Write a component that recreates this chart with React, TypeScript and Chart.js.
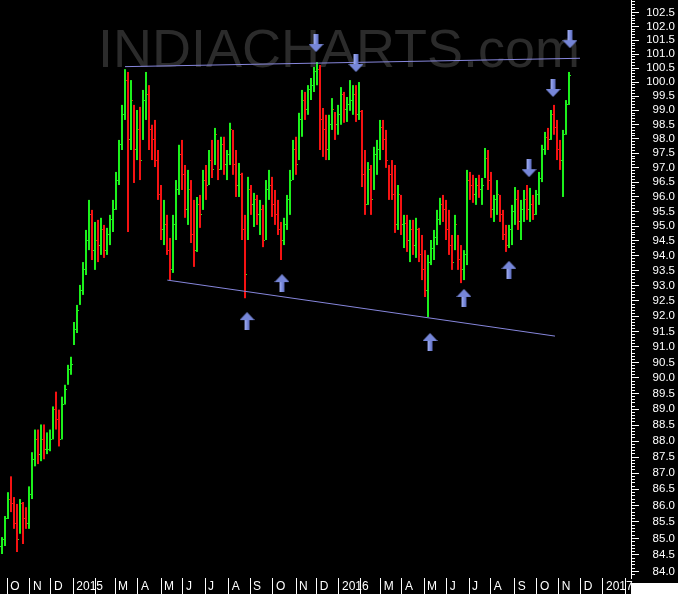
import React, { useEffect, useRef } from 'react';
import { Chart, registerables } from 'chart.js';

Chart.register(...registerables);

// ---- X axis: month ticks (position in bar-index units) and their labels ----
const monthLabels = ['O', 'N', 'D', '2015', '', 'M', 'A', 'M', 'J', 'J', 'A', 'S', 'O', 'N', 'D', '2016', '', 'M', 'A', 'M', 'J', 'J', 'A', 'S', 'O', 'N', 'D', '2017', ''];
const monthPositions = [1.77, 9.33, 16.33, 23.77, 31.23, 37.67, 45.33, 53.0, 60.33, 67.67, 75.57, 82.67, 90.33, 98.0, 104.9, 112.33, 119.57, 126.23, 133.33, 140.67, 148.23, 155.67, 162.9, 170.9, 178.33, 185.57, 192.9, 200.33, 208.0];
const xMin = -0.667;
const xMax = 209.667;

// ---- Y axis (logarithmic price scale) ----
const yMin = 83.81;
const yMax = 102.965;
const yLabelFrom = 84.0;
const yLabelTo = 102.5;
const yMinorFrom = 83.9;
const yMinorTo = 102.9;

// ---- OHLC series (one bar per ~3 sessions) ----
const firstOpen = 84.75;
const highs = [
  85.04, 85.68, 86.41, 86.90, 86.26, 86.05, 86.20, 86.11, 85.95, 86.59,
  87.65, 88.36, 88.36, 88.52, 88.52, 88.27, 88.36, 89.09, 89.56, 88.99,
  89.40, 89.78, 90.42, 90.68, 91.81, 92.37, 93.03, 93.79, 94.87, 95.89,
  95.55, 95.14, 95.21, 95.28, 95.04, 94.94, 95.38, 95.89, 96.85, 97.96,
  99.19, 100.46, 100.36, 100.07, 99.19, 99.01, 99.12, 99.72, 100.36, 99.89,
  98.49, 98.66, 97.61, 96.40, 95.89, 95.38, 94.60, 95.38, 96.57, 97.79,
  97.96, 97.09, 96.92, 96.57, 95.89, 95.99, 96.06, 96.92, 97.09, 97.61,
  97.96, 98.38, 97.96, 98.07, 98.07, 97.61, 98.56, 98.31, 97.61, 97.16,
  96.82, 95.38, 96.68, 96.40, 96.13, 96.06, 95.89, 95.72, 96.57, 96.92,
  96.68, 96.23, 95.89, 95.14, 95.28, 96.06, 96.92, 97.96, 98.07, 98.91,
  99.72, 99.65, 99.89, 100.14, 100.54, 100.72, 100.61, 99.08, 98.84, 98.84,
  99.43, 98.94, 99.19, 99.82, 99.65, 99.47, 100.07, 99.89, 99.89, 100.00,
  99.01, 97.61, 97.19, 97.09, 97.72, 97.96, 98.66, 98.66, 98.31, 97.09,
  97.26, 97.09, 96.40, 96.06, 95.38, 95.38, 95.21, 95.21, 95.28, 94.94,
  94.70, 94.19, 94.03, 94.53, 94.87, 95.55, 95.96, 96.06, 95.89, 95.55,
  94.70, 95.38, 94.70, 94.36, 94.19, 96.92, 96.85, 96.75, 96.64, 96.75,
  96.64, 97.68, 97.61, 96.85, 96.06, 96.57, 96.06, 95.55, 95.04, 95.04,
  95.72, 96.33, 96.23, 95.89, 96.23, 96.40, 96.30, 96.06, 96.23, 96.85,
  97.79, 98.24, 98.38, 99.01, 99.19, 98.66, 97.96, 98.31, 99.36, 100.36,
];
const lows = [
  84.53, 84.77, 85.59, 85.80, 85.29, 84.59, 85.14, 84.83, 85.29, 85.29,
  86.20, 87.21, 87.28, 87.37, 87.43, 87.59, 87.68, 88.05, 88.36, 87.83,
  88.05, 89.15, 89.78, 90.10, 91.06, 91.45, 92.37, 92.70, 93.36, 94.19,
  93.86, 93.53, 93.79, 94.03, 93.93, 94.03, 94.36, 94.80, 95.55, 96.40,
  97.61, 98.66, 94.80, 97.61, 96.47, 97.26, 96.57, 97.96, 98.66, 97.61,
  97.26, 97.02, 95.89, 94.53, 94.36, 94.03, 93.19, 93.43, 94.53, 96.06,
  96.23, 95.28, 95.04, 94.43, 93.63, 94.13, 94.94, 95.55, 95.89, 96.40,
  96.64, 97.09, 96.57, 96.92, 96.75, 96.57, 97.09, 96.75, 95.99, 95.99,
  94.53, 92.59, 94.53, 95.38, 94.97, 95.04, 94.70, 94.29, 94.53, 95.89,
  95.31, 95.04, 94.70, 93.86, 94.36, 94.87, 95.38, 96.57, 96.75, 97.26,
  98.07, 98.66, 98.84, 99.36, 99.65, 99.89, 97.61, 97.37, 97.26, 97.26,
  98.31, 97.96, 98.14, 98.49, 98.56, 98.59, 98.98, 98.84, 98.59, 98.66,
  96.33, 95.38, 95.72, 95.38, 96.23, 96.75, 97.26, 97.61, 96.99, 95.89,
  95.89, 94.77, 94.87, 94.70, 94.26, 94.13, 93.79, 94.03, 93.93, 93.79,
  93.19, 92.63, 91.97, 93.69, 93.86, 94.36, 95.04, 95.14, 94.53, 94.03,
  93.53, 94.19, 93.53, 93.09, 93.19, 93.69, 95.89, 95.79, 95.72, 95.96,
  95.72, 96.64, 96.23, 95.28, 95.14, 95.38, 95.14, 94.53, 94.13, 94.26,
  94.36, 95.04, 94.87, 94.53, 95.14, 95.21, 95.14, 95.21, 95.38, 95.72,
  96.50, 97.44, 97.61, 97.96, 98.14, 97.26, 96.92, 95.99, 98.14, 99.19,
];
const closes = [
  84.98, 85.59, 86.20, 86.05, 85.44, 84.98, 86.05, 85.59, 85.44, 86.35,
  87.43, 88.05, 87.59, 88.05, 87.74, 87.74, 88.05, 88.99, 88.68, 88.05,
  89.15, 89.62, 90.26, 90.42, 91.55, 92.20, 92.86, 93.53, 94.53, 95.38,
  94.19, 94.53, 94.36, 94.87, 94.19, 94.70, 95.21, 95.55, 96.57, 97.79,
  98.84, 100.07, 97.96, 99.36, 97.61, 98.31, 97.26, 99.36, 99.54, 98.31,
  97.96, 97.26, 96.06, 94.87, 95.04, 94.19, 93.53, 95.04, 96.23, 97.44,
  96.75, 95.55, 96.23, 94.70, 94.19, 95.72, 95.38, 96.57, 96.40, 97.26,
  96.92, 98.14, 96.92, 97.79, 97.09, 97.44, 98.31, 97.09, 96.40, 96.75,
  94.87, 93.36, 96.23, 95.72, 95.89, 95.38, 95.55, 94.53, 96.23, 96.40,
  95.72, 95.38, 94.87, 94.53, 95.04, 95.89, 96.57, 97.61, 97.09, 98.66,
  99.36, 99.01, 99.72, 99.89, 100.36, 100.43, 98.66, 98.31, 97.61, 98.49,
  99.01, 98.49, 98.84, 99.54, 99.01, 99.19, 99.36, 99.54, 98.84, 98.94,
  96.75, 95.72, 96.92, 95.89, 97.44, 97.61, 98.38, 97.96, 97.26, 96.75,
  96.06, 95.04, 96.06, 95.04, 95.10, 94.53, 94.87, 94.36, 94.87, 94.03,
  93.53, 92.86, 93.79, 94.26, 94.60, 95.21, 95.72, 95.55, 94.87, 94.36,
  93.79, 95.04, 93.86, 93.53, 94.03, 96.57, 96.40, 96.06, 96.40, 96.23,
  96.40, 97.33, 96.57, 95.55, 95.89, 96.06, 95.38, 94.70, 94.36, 94.87,
  95.48, 95.89, 95.14, 95.55, 95.89, 95.55, 95.72, 95.38, 96.06, 96.64,
  97.61, 98.03, 97.96, 98.84, 98.38, 97.61, 97.26, 98.14, 99.19, 100.25,
];

// ---- Trend lines (bar-index, price) ----
const upperLineX = [41.0, 192.67];
const upperLineY = [100.55, 100.85];
const lowerLineX = [55.1, 184.33];
const lowerLineY = [93.19, 91.35];

// ---- Arrow annotations (centre, bar-index / price) ----
const downArrowX = [104.67, 118.0, 175.67, 183.67, 189.33];
const downArrowY = [101.40, 100.68, 96.98, 99.79, 101.54];
const upArrowX = [81.67, 93.33, 142.67, 154.0, 169.0];
const upArrowY = [91.84, 93.09, 91.16, 92.60, 93.53];

const watermark = 'INDIACHARTS.com';

const GREEN = '#1cf01c';
const RED = '#f51212';
const LINE = '#8686dc';
const FONT = '"Liberation Sans", Arial, sans-serif';

function makeArrow(down: boolean): HTMLCanvasElement {
  const c = document.createElement('canvas');
  c.width = 15;
  c.height = 18;
  const g = c.getContext('2d') as CanvasRenderingContext2D;
  g.save();
  if (!down) {
    g.translate(0, 18);
    g.scale(1, -1);
  }
  g.fillStyle = '#7686d8';
  g.fillRect(5, 0, 5, 10);
  g.beginPath();
  g.moveTo(0, 10);
  g.lineTo(15, 10);
  g.lineTo(7.5, 18);
  g.closePath();
  g.fill();
  g.fillStyle = '#95a3ea';
  g.fillRect(5, 0, 2, 10);
  g.fillStyle = '#5a68b4';
  g.fillRect(9, 0, 1, 10);
  g.restore();
  return c;
}

export default function App() {
  const ref = useRef<HTMLCanvasElement>(null);

  useEffect(() => {
    const canvas = ref.current as HTMLCanvasElement;
    const opens = closes.map((c, i) => (i === 0 ? firstOpen : closes[i - 1]));
    const colors = closes.map((c, i) => (c >= opens[i] ? GREEN : RED));
    const barData = highs.map((h, i) => ({ x: i, y: [lows[i], h] }));

    const yTicks: { value: number }[] = [];
    for (let k = Math.round(yMinorFrom * 10); k <= Math.round(yMinorTo * 10); k++) {
      yTicks.push({ value: k / 10 });
    }
    const isMajor = (v: number) => Math.round(v * 10) % 5 === 0;

    const ohlcTicks = {
      id: 'ohlcTicks',
      afterDatasetDraw(chart: any, args: any) {
        const ds = chart.data.datasets[args.index];
        if (ds.label !== 'ohlc') return;
        const ys = chart.scales.y;
        const ctx = chart.ctx;
        ctx.save();
        args.meta.data.forEach((el: any, i: number) => {
          ctx.fillStyle = colors[i];
          const x = Math.round(el.x);
          const yo = Math.round(ys.getPixelForValue(opens[i]) - 0.5);
          const yc = Math.round(ys.getPixelForValue(closes[i]) - 0.5);
          ctx.fillRect(x - 2, yo, 1, 1);
          ctx.fillRect(x + 1, yc, 1, 1);
        });
        ctx.restore();
      },
    };

    const decor = {
      id: 'decor',
      beforeDatasetsDraw(chart: any) {
        const ctx = chart.ctx;
        ctx.save();
        ctx.font = `54px ${FONT}`;
        ctx.fillStyle = '#2b2b2b';
        ctx.textBaseline = 'alphabetic';
        ctx.textAlign = 'left';
        ctx.fillText(watermark, 98, 67);
        ctx.restore();
      },
      afterDraw(chart: any) {
        const ctx = chart.ctx;
        const r = chart.chartArea.right;
        ctx.save();
        ctx.fillStyle = '#ffffff';
        ctx.fillRect(r, chart.chartArea.bottom + 5, chart.width - r, chart.height - chart.chartArea.bottom - 5);
        ctx.restore();
      },
    };

    const chart = new Chart(canvas, {
      type: 'bar',
      data: {
        datasets: [
          {
            type: 'scatter',
            label: 'down',
            data: downArrowX.map((x, i) => ({ x, y: downArrowY[i] })),
            pointStyle: makeArrow(true),
            pointRadius: 9,
            order: 0,
          } as any,
          {
            type: 'scatter',
            label: 'up',
            data: upArrowX.map((x, i) => ({ x, y: upArrowY[i] })),
            pointStyle: makeArrow(false),
            pointRadius: 9,
            order: 0,
          } as any,
          {
            type: 'line',
            label: 'upper',
            data: upperLineX.map((x, i) => ({ x, y: upperLineY[i] })),
            borderColor: LINE,
            borderWidth: 1,
            pointRadius: 0,
            fill: false,
            tension: 0,
            order: 1,
          } as any,
          {
            type: 'line',
            label: 'lower',
            data: lowerLineX.map((x, i) => ({ x, y: lowerLineY[i] })),
            borderColor: LINE,
            borderWidth: 1,
            pointRadius: 0,
            fill: false,
            tension: 0,
            order: 1,
          } as any,
          {
            type: 'bar',
            label: 'ohlc',
            data: barData,
            backgroundColor: colors,
            borderWidth: 0,
            barThickness: 2,
            inflateAmount: 0,
            order: 2,
          } as any,
        ],
      },
      options: {
        animation: false,
        responsive: false,
        maintainAspectRatio: false,
        events: [],
        layout: { padding: { left: 0, top: 0, bottom: 0, right: 3 }, autoPadding: false } as any,
        plugins: { legend: { display: false }, tooltip: { enabled: false } },
        scales: {
          x: {
            type: 'linear',
            min: xMin,
            max: xMax,
            bounds: 'data',
            offset: false,
            afterBuildTicks: (s: any) => {
              s.ticks = monthPositions.map((v) => ({ value: v }));
            },
            afterFit: (s: any) => {
              s.height = 16;
              s.paddingLeft = 0;
              s.paddingRight = 0;
            },
            ticks: {
              autoSkip: false,
              maxRotation: 0,
              minRotation: 0,
              align: 'start',
              labelOffset: 3,
              padding: -14.2,
              color: '#ffffff',
              font: { family: FONT, size: 12 },
              callback: (_v: any, i: number) => monthLabels[i],
            },
            grid: {
              display: true,
              drawOnChartArea: false,
              drawTicks: true,
              tickLength: 16,
              tickColor: '#ffffff',
              tickWidth: 1,
              offset: false,
            },
            border: { display: false },
          } as any,
          y: {
            type: 'logarithmic',
            position: 'right',
            min: yMin,
            max: yMax,
            bounds: 'data',
            afterBuildTicks: (s: any) => {
              s.ticks = yTicks.map((t) => ({ value: t.value }));
            },
            afterFit: (s: any) => {
              s.width = 44;
              s.paddingTop = 0;
              s.paddingBottom = 0;
            },
            ticks: {
              autoSkip: false,
              crossAlign: 'far',
              padding: 2,
              color: '#ffffff',
              font: { family: FONT, size: 11.5 },
              callback: (v: any) => {
                const n = Number(v);
                return isMajor(n) && n >= yLabelFrom - 0.01 && n <= yLabelTo + 0.01 ? n.toFixed(1) : '';
              },
            },
            grid: {
              display: true,
              drawOnChartArea: false,
              drawTicks: true,
              tickLength: 8,
              tickColor: '#ffffff',
              tickWidth: 1,
              tickBorderDash: (ctx: any) => (ctx.tick && isMajor(ctx.tick.value) ? [] : [3, 40]),
            },
            border: { display: true, color: '#ffffff', width: 1 },
          } as any,
        },
      },
      plugins: [ohlcTicks, decor],
    });
    return () => chart.destroy();
  }, []);

  return (
    <div style={{ position: 'fixed', left: 0, top: 0, width: 678, height: 594, background: '#000' }}>
      <canvas ref={ref} width={678} height={594} style={{ display: 'block', width: 678, height: 594 }} />
    </div>
  );
}
